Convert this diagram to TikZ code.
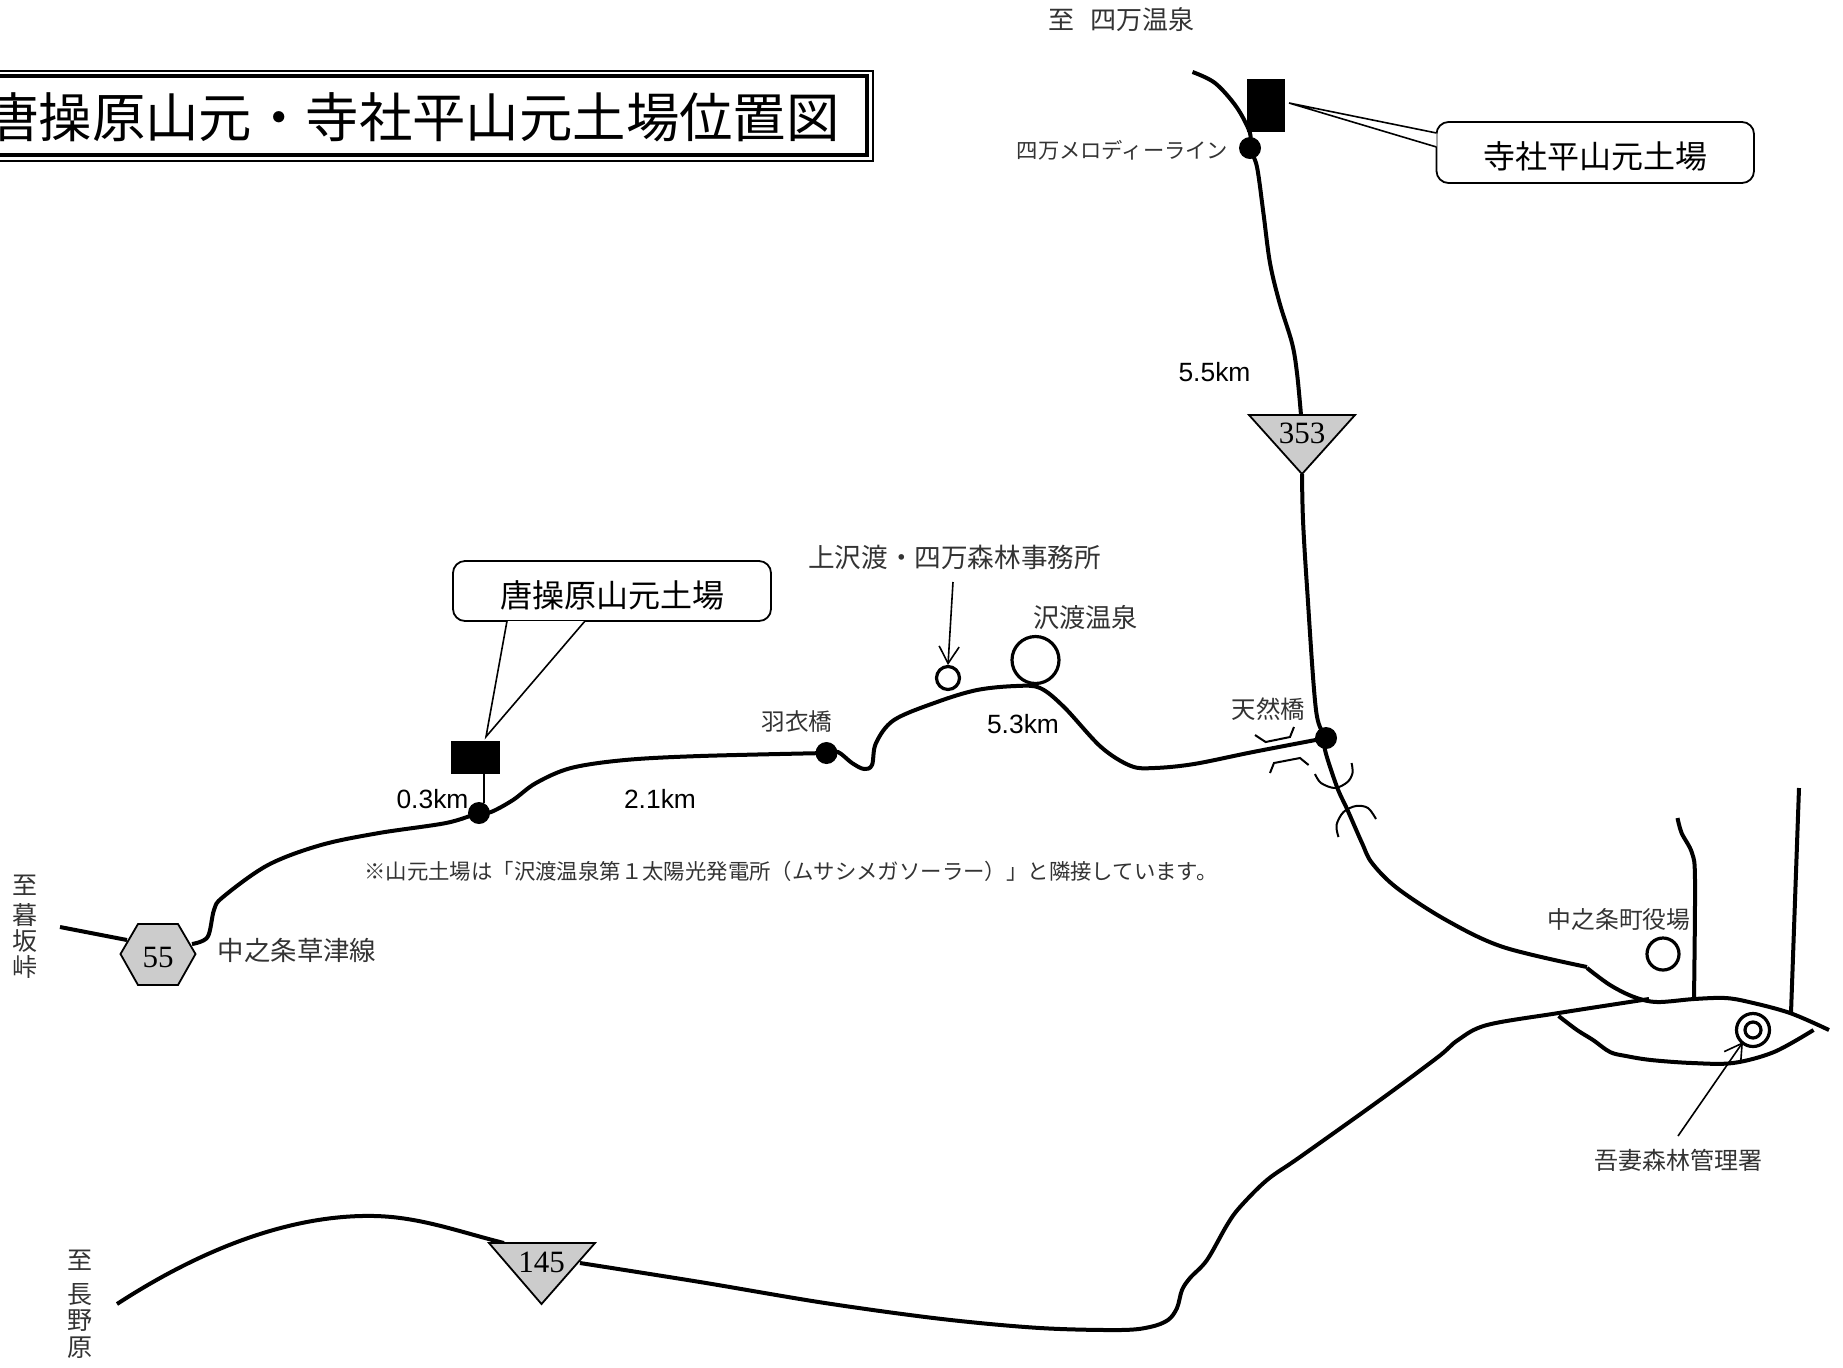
\documentclass[tikz,border=0pt]{standalone}
\usepackage{fontspec}
\setmainfont{Liberation Serif}
\newfontfamily\cjk{Noto Sans CJK JP}
\newfontfamily\arial{Liberation Sans}
\newfontfamily\numf{Liberation Serif}
\usetikzlibrary{arrows.meta}
\tikzset{
  x=0.5pt,y=-0.5pt,
  road/.style={line width=2pt,line join=round},
  thin line/.style={line width=0.8pt},
  mark line/.style={line width=1pt},
  roadplot/.style={smooth,tension=0.55},
  lbl/.style={inner sep=0pt,font=\cjk\fontsize{#1}{#1}\selectfont,text=black!80},
  lbl/.default=12,
  km/.style={inner sep=0pt,font=\arial\fontsize{13.2}{13.2}\selectfont},
  num/.style={inner sep=0pt,font=\numf\fontsize{15.5}{15.5}\selectfont},
  dot/.style={circle,fill=black,minimum size=11pt,inner sep=0pt},
  site/.style={fill=black,inner sep=0pt},
  ring/.style={circle,draw=black,line width=#1,inner sep=0pt,fill=white},
  ring/.default=1.6pt,
  sign/.style={fill=black!20,draw=black,line width=0.9pt,line join=miter},
  callout/.style={draw=black,line width=0.9pt,rounded corners=6pt,fill=white,inner sep=0pt,
     font=\cjk\fontsize{16}{16}\selectfont},
  pointer/.style={line width=0.8pt,-{Straight Barb[length=8.5pt,width=10pt]}},
  vert/.style={align=center,inner sep=0pt,font=\cjk\fontsize{12.5}{13.1}\selectfont,text=black!80},
}
\begin{document}
\begin{tikzpicture}
\useasboundingbox (0,0) rectangle (1843,1367);
% title
\draw[line width=1pt] (-30,71) rectangle (873,161);
\draw[line width=1.6pt] (-30,76) rectangle (867,155);
\node[anchor=west,inner sep=0pt,font=\cjk\fontsize{26.7}{26.7}\selectfont] (title) at (-15,117) {唐操原山元・寺社平山元土場位置図};
% named points
\node[dot] (d1) at (1250,148) {};
\node[dot] (d2) at (1326,738) {};
\node[dot] (d3) at (826.5,753) {};
\node[dot] (d4) at (479,813) {};
\coordinate (t353a) at (1301,415);
\coordinate (t353b) at (1302,474);
\coordinate (r4end) at (1303,520);
% roads
\draw[road] plot[roadplot] coordinates {(1192.5,72) (1215,83) (1236.5,107) (1250,133) (d1) (1257,167) (1263.4,213) (1270,263) (1279.6,303) (1292,343) (1297,373) (t353a)};
\draw[road] plot[roadplot] coordinates {(t353b) (r4end) (1307,587) (1316,710) (d2) (1325,750) (1337,787) (1347.5,810) (1362,843) (1372,863) (1397,888) (1446,920) (1503,947) (1587,967)};
\draw[road] plot[roadplot] coordinates {(1587,968) (1610,985) (1634,997) (1657,1002) (1694,999) (1725,998) (1749,1002) (1790,1013) (1829,1030)};
\draw[road] plot[roadplot] coordinates {(1649,999) (1558.6,1013) (1487,1025) (1458,1040) (1438,1057) (1380,1100) (1300,1157) (1267,1180) (1240,1207) (1227,1225) (1207,1260) (1190,1278) (1182,1290) (1177,1308) (1168,1320) (1150,1327) (1120,1330) (1040,1328) (942,1319) (825,1303) (700,1282) (580,1263)};
\draw[road] (117,1304) .. controls (200,1250) and (290,1214) .. (375,1216) .. controls (420,1217) and (460,1232) .. (504,1243);
\draw[road] (60,927) -- (127,940);
\draw[road] plot[roadplot] coordinates {(192,944) (207.6,937) (214,910) (223,897) (268,865) (321,845) (379,833) (446,823) (d4) (491,812) (513,800) (536,783) (571,768) (625,760) (700,756) (d3)};
\draw[road] plot[roadplot] coordinates {(d3) (838,752) (852,763) (864,769) (872,765) (876,743) (894,720) (937,702) (977,690) (1016,686) (1040,688) (1064,707) (1101,747) (1131,766) (1154.5,768) (1194,764) (1253,752) (d2)};
\draw[road] plot[roadplot] coordinates {(1677.5,818) (1681.6,833) (1692,853) (1695,880) (1694,999)};
\draw[road] (1799,788) -- (1791,1013);
\draw[road] plot[roadplot] coordinates {(1558.6,1016) (1577,1030) (1593,1040) (1610,1052) (1626,1056) (1651,1060) (1692,1063) (1733,1063) (1774,1052) (1813.5,1030)};
% bridges
\draw[mark line] (1255,735) -- (1265.6,742) -- (1290,737) -- (1294,727);
\draw[mark line] (1270,773) -- (1274,763) -- (1300,758) -- (1308.6,765);
\draw[mark line] plot[roadplot] coordinates {(1315,774) (1321,783) (1335,788) (1347.5,782) (1352.5,773) (1351.6,763)};
\draw[mark line] plot[roadplot] coordinates {(1338.5,837) (1336.5,825) (1343.5,812) (1356,806) (1368,808) (1376,819)};
% sites and callouts
\node[site,minimum width=19pt,minimum height=26.5pt] (s1) at (1266,105.5) {};
\node[site,minimum width=24.5pt,minimum height=16.5pt] (s2) at (475.5,757.5) {};
\draw[thin line] (s2.south -| 484,0) -- (484,803);
\node[callout,minimum width=158.75pt,minimum height=30.5pt] (c1) at (1595.25,152.5) {\raisebox{-8pt}[0pt][0pt]{寺社平山元土場}};
\coordinate (c1tip) at (1289,103);
\coordinate (c1a) at (1436.5,133);
\coordinate (c1b) at (1436.5,147);
\fill[white] (c1tip) -- (c1a) -- (c1b) -- cycle;
\draw[thin line] (c1a) -- (c1tip) -- (c1b);
\node[callout,minimum width=159pt,minimum height=30pt] (c2) at (612,591) {\raisebox{-8pt}[0pt][0pt]{唐操原山元土場}};
\coordinate (c2tip) at (486,736.7);
\coordinate (c2a) at (507,621);
\coordinate (c2b) at (585,621);
\fill[white] (c2tip) -- (c2a) -- (c2b) -- cycle;
\draw[thin line] (c2a) -- (c2tip) -- (c2b);
% signs
\draw[sign] (1249,415) -- (1355,415) -- (t353b) -- cycle;
\node[num] (n353) at (1302,433) {353};
\draw[sign] (489,1243) -- (595,1243) -- (541.5,1304) -- cycle;
\node[num] (n145) at (541.5,1262) {145};
\draw[sign] (120.5,954) -- (138,924) -- (178,924) -- (195.5,954) -- (178,985) -- (138,985) -- cycle;
\node[num] (n55) at (158,957) {55};
% rings
\node[ring,minimum size=16pt] (r1) at (1663,954) {};
\node[ring,minimum size=23.5pt] (r2) at (1035.5,660) {};
\node[ring,minimum size=11.5pt] (r3) at (948,678) {};
\node[ring,minimum size=16.5pt] (r4) at (1753,1030) {};
\node[ring,minimum size=8pt] (r5) at (1753,1030) {};
% pointers
\coordinate (p1s) at (1678,1136);
\coordinate (p1e) at (1743,1042);
\draw[pointer] (p1s) -- (p1e);
\coordinate (p2s) at (953,582);
\coordinate (p2e) at (948,665);
\draw[pointer] (p2s) -- (p2e);
% labels
\node[lbl=13] (l1) at (1121.5,19.5) {至\hspace{8pt}四万温泉};
\node[lbl=10.65] (l2) at (1122.5,150) {四万メロディーライン};
\node[km] (k1) at (1214.5,372) {5.5km};
\node[km] (k2) at (1023,724) {5.3km};
\node[km] (k3) at (432.5,799) {0.3km};
\node[km] (k4) at (660,799) {2.1km};
\node[lbl=11.8] (l3) at (797,722) {羽衣橋};
\node[lbl=13.3] (l4) at (954.5,557) {上沢渡・四万森林事務所};
\node[lbl=13.1] (l5) at (1085.5,618) {沢渡温泉};
\node[lbl=12.2] (l6) at (1268.5,709) {天然橋};
\node[lbl=13.2] (l7) at (297,950.5) {中之条草津線};
\node[lbl=10.7] (l8) at (791,871) {※山元土場は「沢渡温泉第１太陽光発電所（ムサシメガソーラー）」と隣接しています。};
\node[lbl=11.9] (l9) at (1619,919) {中之条町役場};
\node[lbl=12] (l10) at (1678.5,1160.5) {吾妻森林管理署};
\node[vert] (v1) at (24.5,927) {至\\[1.5pt]暮\\坂\\峠};
\node[vert] (v2) at (79.5,1304) {至\\[4pt]長\\野\\原};
\end{tikzpicture}
\end{document}
